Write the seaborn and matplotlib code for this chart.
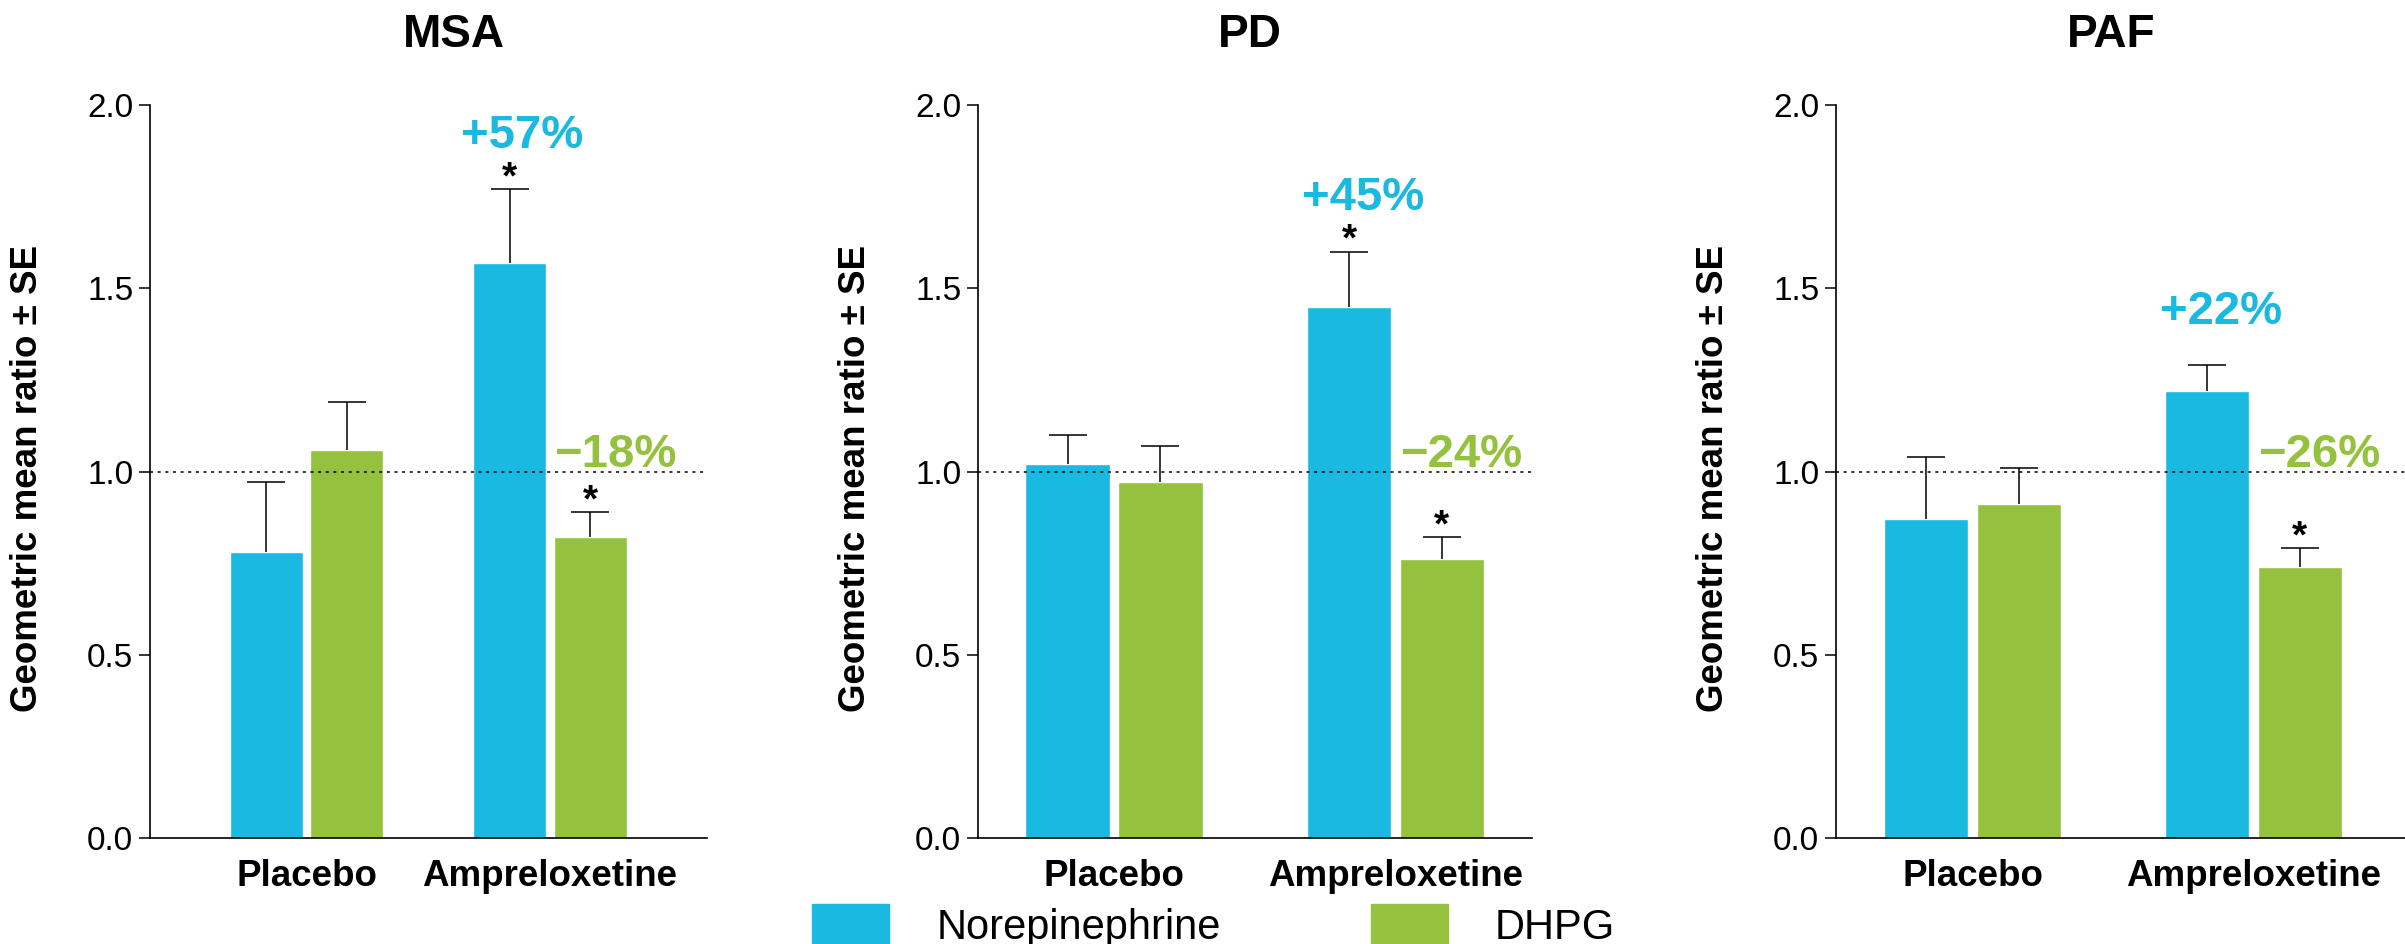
import matplotlib
matplotlib.use("Agg")
import matplotlib.pyplot as plt
import matplotlib.patches as mpatches
import seaborn as sns
import pandas as pd

# data
panels = ["MSA", "PD", "PAF"]
treatments = ["Placebo", "Ampreloxetine"]
analytes = ["Norepinephrine", "DHPG"]

# geometric mean ratio per panel: [Placebo, Ampreloxetine]
ne_ratio = [[0.78, 1.57], [1.02, 1.45], [0.87, 1.22]]
ne_se = [[0.19, 0.20], [0.08, 0.15], [0.17, 0.07]]
dhpg_ratio = [[1.06, 0.82], [0.97, 0.76], [0.91, 0.74]]
dhpg_se = [[0.13, 0.07], [0.10, 0.06], [0.10, 0.05]]

ne_change = ["+57%", "+45%", "+22%"]
dhpg_change = ["\u221218%", "\u221224%", "\u221226%"]
ne_sig = [True, True, False]
dhpg_sig = [True, True, True]

BLUE = "#19B9E1"
GREEN = "#94C13E"
palette = {"Norepinephrine": BLUE, "DHPG": GREEN}

sns.set_style("ticks")
plt.rcParams["font.family"] = ["Liberation Sans", "DejaVu Sans"]
for key in ["text.color", "axes.labelcolor", "xtick.color", "ytick.color", "axes.edgecolor"]:
    plt.rcParams[key] = "black"

W, H = 2405, 944
fig = plt.figure(figsize=(W / 100, H / 100), dpi=100)

# axes placement in pixels (left, right), shared top/bottom
ax_px = [(150, 707), (978, 1532), (1836, 2405)]
y_top, y_bot = 105, 838
xlims = [(-0.643, 1.645), (-0.483, 1.485), (-0.486, 1.539)]
title_x = [0.546, 0.49, 0.483]

for i, name in enumerate(panels):
    l, r = ax_px[i]
    ax = fig.add_axes([l / W, (H - y_bot) / H, (r - l) / W, (y_bot - y_top) / H])

    df = pd.DataFrame({
        "treatment": treatments * 2,
        "analyte": [analytes[0]] * 2 + [analytes[1]] * 2,
        "value": ne_ratio[i] + dhpg_ratio[i],
    })
    sns.barplot(data=df, x="treatment", y="value", hue="analyte",
                order=treatments, hue_order=analytes, palette=palette,
                width=0.66, gap=0.09, saturation=1, errorbar=None,
                legend=False, ax=ax)

    ses = [ne_se[i], dhpg_se[i]]
    tops = []
    bar_conts = list(ax.containers)
    for k, cont in enumerate(bar_conts):
        xs = [p.get_x() + p.get_width() / 2 for p in cont.patches]
        ys = [p.get_height() for p in cont.patches]
        eb = ax.errorbar(xs, ys, yerr=[[0, 0], ses[k]], fmt="none", ecolor="black",
                         elinewidth=1.1, capsize=14, capthick=1.1, zorder=1)
        # only the upper cap is drawn in the original
        eb[1][0].set_visible(False)
        tops.append([(x, y + s, p) for x, y, s, p in zip(xs, ys, ses[k], cont.patches)])

    ax.axhline(1.0, color="black", linestyle=(0, (2, 3)), linewidth=1.1, zorder=3)

    # annotations on the Ampreloxetine pair
    bx, btop, _ = tops[0][1]
    ax.text(bx + 0.05, btop + 0.085, ne_change[i], color=BLUE, fontsize=34,
            fontweight="bold", ha="center", va="bottom")
    if ne_sig[i]:
        ax.text(bx, btop - 0.02, "*", fontsize=28, fontweight="bold",
                ha="center", va="bottom")
    gx, gtop, gp = tops[1][1]
    ax.text(gp.get_x(), 0.985, dhpg_change[i], color=GREEN, fontsize=34,
            fontweight="bold", ha="left", va="bottom")
    if dhpg_sig[i]:
        ax.text(gx, gtop - 0.02, "*", fontsize=28, fontweight="bold",
                ha="center", va="bottom")

    ax.set_xlim(*xlims[i])
    ax.set_ylim(0, 2.0)
    ax.set_yticks([0.0, 0.5, 1.0, 1.5, 2.0])
    ax.set_yticklabels([f"{v:.1f}" for v in [0.0, 0.5, 1.0, 1.5, 2.0]])
    ax.tick_params(axis="y", labelsize=24, length=8, width=1.1, pad=4, color="black")
    ax.tick_params(axis="x", length=0, pad=15)
    for lab in ax.get_xticklabels():
        lab.set_fontsize(26.5)
        lab.set_fontweight("bold")
    ax.set_xlabel("")
    ax.set_ylabel("Geometric mean ratio \u00b1 SE", fontsize=26.5, fontweight="bold")
    ax.yaxis.set_label_coords(-105 / (r - l), 0.49)
    ax.set_title(name, fontsize=33, fontweight="bold", x=title_x[i], pad=42)
    for side in ["top", "right"]:
        ax.spines[side].set_visible(False)
    for side in ["left", "bottom"]:
        ax.spines[side].set_linewidth(1.2)
        ax.spines[side].set_color("black")

handles = [mpatches.Patch(color=palette[a], label=a) for a in analytes]
fig.legend(handles=handles, loc="upper left", bbox_to_anchor=(812 / W, 1 - 904 / H),
           ncol=2, frameon=False, fontsize=30, handlelength=1.85, handleheight=1.2,
           handletextpad=1.13, columnspacing=3.6, borderpad=0, borderaxespad=0)

fig.savefig("out.png", dpi=100)
